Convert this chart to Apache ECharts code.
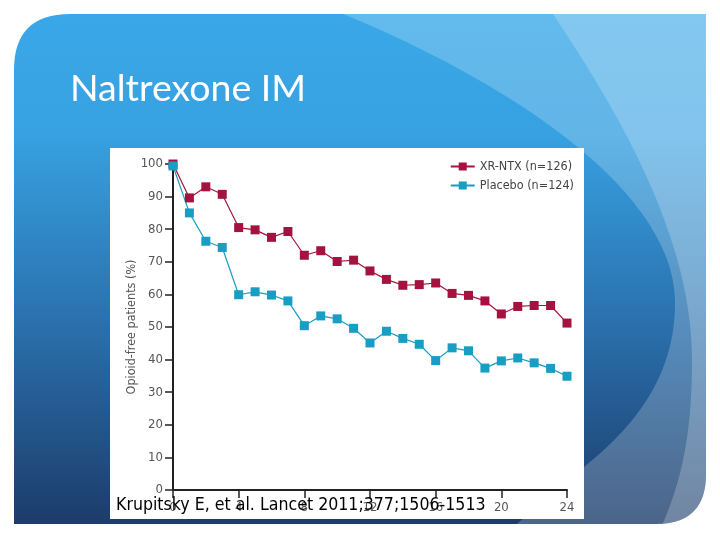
<!DOCTYPE html>
<html>
<head>
<meta charset="utf-8">
<script src="https://cdn.jsdelivr.net/npm/echarts@6/dist/echarts.min.js"></script>
<style>
html, body { margin: 0; padding: 0; background: #fff; }
#wrap { position: relative; width: 720px; height: 540px; }
#bg { position: absolute; left: 0; top: 0; }
#main { position: absolute; left: 0; top: 0; width: 720px; height: 540px; }
</style>
</head>
<body>
<div id="wrap">
  <!-- slide background -->
  <svg id="bg" width="720" height="540">
    <defs>
      <linearGradient id="g" x1="0" y1="0" x2="0" y2="1">
        <stop offset="0" stop-color="#3aa9e9"/>
        <stop offset="0.25" stop-color="#37a1e1"/>
        <stop offset="0.6" stop-color="#2a70ad"/>
        <stop offset="1" stop-color="#1b3864"/>
      </linearGradient>
      <clipPath id="c"><path d="M14,70 Q14,14 70,14 L706,14 L706,474 Q706,524 656,524 L14,524 Z"/></clipPath>
    </defs>
    <g clip-path="url(#c)">
      <rect x="0" y="0" width="720" height="540" fill="url(#g)"/>
      <path d="M343,14 C480,70 675,180 675,303 C675,380 630,430 584,467 C550,495 520,520 500,540 L720,540 L720,0 L343,0 Z" fill="#fff" fill-opacity="0.21"/>
      <path d="M553,14 C610,100 692,230 692,360 C692,440 680,490 655,540 L720,540 L720,0 Z" fill="#fff" fill-opacity="0.21"/>
    </g>
    <rect x="110" y="148" width="474" height="371" fill="#fff"/>
  </svg>
  <div id="main"></div>
</div>
<script>
// weeks since start
const weeks = [0, 1, 2, 3, 4, 5, 6, 7, 8, 9, 10, 11, 12, 13, 14, 15, 16, 17, 18, 19, 20, 21, 22, 23, 24];
const xrNtx = [100, 89.6, 93.0, 90.7, 80.5, 79.8, 77.5, 79.3, 72.0, 73.4, 70.1, 70.5, 67.2, 64.6, 62.8, 63.0, 63.5, 60.3, 59.7, 58.0, 54.0, 56.3, 56.6, 56.6, 51.2];
const placebo = [99.4, 85.0, 76.3, 74.4, 59.9, 60.8, 59.8, 58.0, 50.4, 53.4, 52.5, 49.6, 45.1, 48.7, 46.5, 44.7, 39.7, 43.6, 42.7, 37.4, 39.6, 40.5, 39.0, 37.3, 34.9];
const seriesNames = ['XR-NTX (n=126)', 'Placebo (n=124)'];

const chart = echarts.init(document.getElementById('main'));
const labelFont = 'DejaVu Sans Condensed';

chart.setOption({
  backgroundColor: 'transparent',
  animation: false,
  title: {
    text: 'Naltrexone IM',
    left: 65,
    top: 65,
    textStyle: { color: '#fff', fontSize: 37.5, fontWeight: 'normal', fontFamily: 'Lato' }
  },
  legend: {
    data: seriesNames,
    orient: 'vertical',
    right: 141,
    top: 155,
    itemWidth: 24,
    itemHeight: 10,
    itemGap: 6,
    textStyle: { color: '#444', fontSize: 12.5, fontFamily: labelFont }
  },
  grid: { left: 173, right: 153, top: 164, bottom: 50 },
  xAxis: {
    type: 'value',
    min: 0,
    max: 24,
    interval: 4,
    axisLine: { lineStyle: { color: '#222', width: 2 } },
    axisTick: { length: 8, lineStyle: { color: '#222', width: 1.5 } },
    axisLabel: { color: '#555', fontSize: 13, fontFamily: labelFont, margin: 11 },
    splitLine: { show: false }
  },
  yAxis: {
    type: 'value',
    min: 0,
    max: 100,
    interval: 10,
    name: 'Opioid-free patients (%)',
    nameLocation: 'middle',
    nameGap: 35,
    nameMoveOverlap: false,
    nameTextStyle: { color: '#555', fontSize: 12.5, fontFamily: labelFont },
    axisLine: { show: true, lineStyle: { color: '#222', width: 2 } },
    axisTick: { show: true, length: 8, lineStyle: { color: '#222', width: 1.5 } },
    axisLabel: { color: '#555', fontSize: 13, fontFamily: labelFont, margin: 10 },
    splitLine: { show: false }
  },
  series: [
    {
      name: seriesNames[0],
      type: 'line',
      symbol: 'rect',
      symbolSize: 9,
      color: '#a5123f',
      lineStyle: { width: 1.2 },
      data: weeks.map((w, i) => [w, xrNtx[i]])
    },
    {
      name: seriesNames[1],
      type: 'line',
      symbol: 'rect',
      symbolSize: 9,
      color: '#189dc3',
      lineStyle: { width: 1.2 },
      data: weeks.map((w, i) => [w, placebo[i]])
    }
  ],
  graphic: [
    {
      type: 'text',
      left: 116,
      top: 496,
      z: 100,
      style: {
        text: 'Krupitsky E, et al. Lancet 2011;377;1506-1513',
        fill: '#000',
        font: '17.6px "DejaVu Sans Condensed"'
      }
    }
  ]
});
</script>
</body>
</html>
